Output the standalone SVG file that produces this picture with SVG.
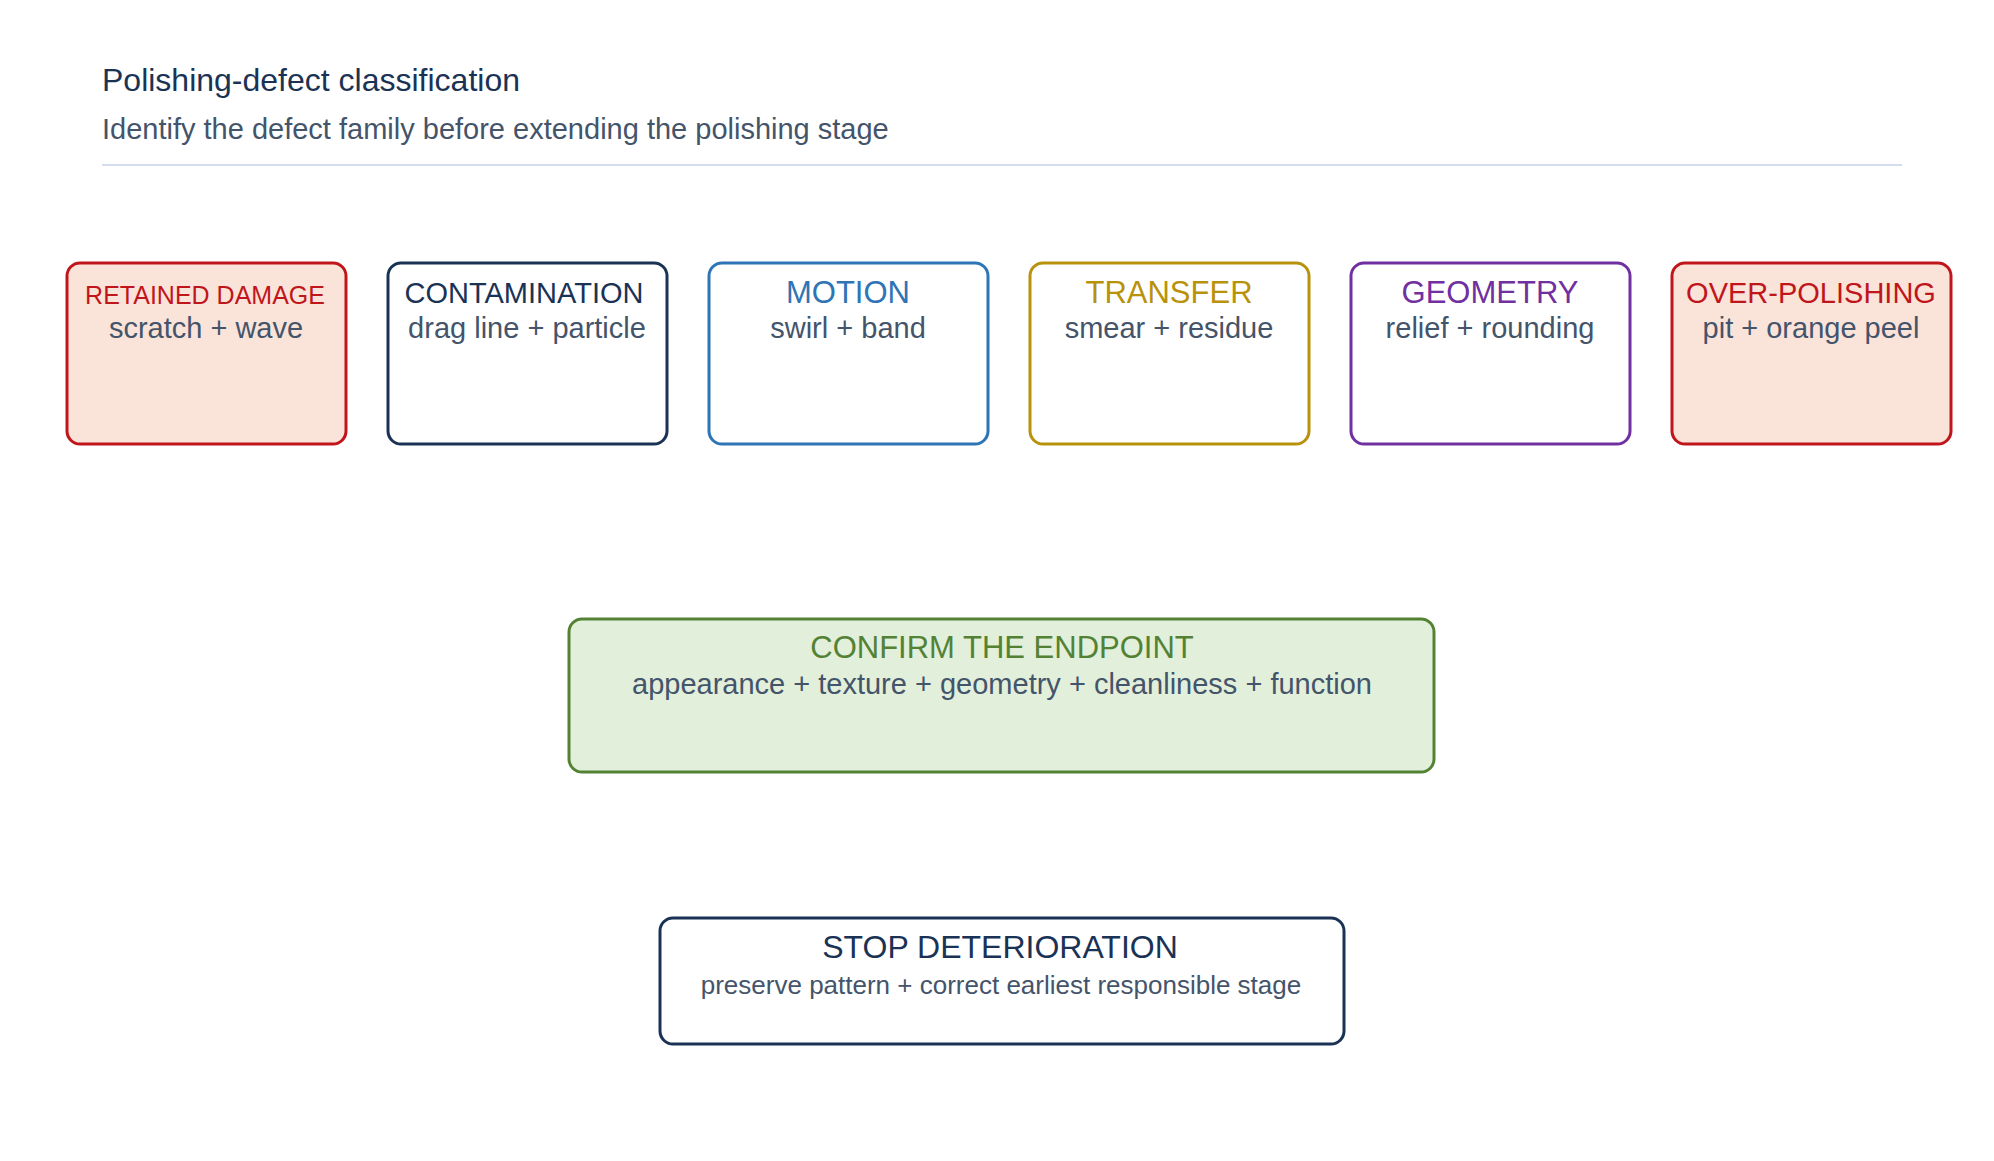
<svg xmlns="http://www.w3.org/2000/svg" width="1994" height="1161" viewBox="0 0 1994 1161">
<style>
text{font-family:"Liberation Sans",Arial,sans-serif;text-anchor:middle}
.box{stroke-width:3}
.sub{fill:#44546a;font-size:29px}
.t{font-size:30px}
</style>
<rect width="1994" height="1161" fill="#fff"/>
<text x="102" y="91" style="text-anchor:start;font-size:32px;fill:#1a3355">Polishing-defect classification</text>
<text x="102" y="139" style="text-anchor:start;font-size:29px;fill:#44546a">Identify the defect family before extending the polishing stage</text>
<line x1="102" y1="165" x2="1902" y2="165" stroke="#d5dcf0" stroke-width="2"/>
<g id="n1"><rect class="box" x="67" y="263" width="279" height="181" rx="13" fill="#fae3d9" stroke="#c0161b"/><text class="t" x="205" y="304" style="font-size:25px;fill:#c0161b">RETAINED DAMAGE</text><text class="sub" x="206" y="338">scratch + wave</text></g>
<g id="n2"><rect class="box" x="388" y="263" width="279" height="181" rx="13" fill="#fff" stroke="#1a3355"/><text class="t" x="524" y="303" style="font-size:29px;fill:#1a3355">CONTAMINATION</text><text class="sub" x="527" y="338">drag line + particle</text></g>
<g id="n3"><rect class="box" x="709" y="263" width="279" height="181" rx="13" fill="#fff" stroke="#2e75b6"/><text class="t" x="848" y="303" style="fill:#2e75b6;font-size:31px">MOTION</text><text class="sub" x="848" y="338">swirl + band</text></g>
<g id="n4"><rect class="box" x="1030" y="263" width="279" height="181" rx="13" fill="#fff" stroke="#b8920b"/><text class="t" x="1169" y="303" style="fill:#b8920b;font-size:31px">TRANSFER</text><text class="sub" x="1169" y="338">smear + residue</text></g>
<g id="n5"><rect class="box" x="1351" y="263" width="279" height="181" rx="13" fill="#fff" stroke="#7030a0"/><text class="t" x="1490" y="303" style="fill:#7030a0;font-size:31px">GEOMETRY</text><text class="sub" x="1490" y="338">relief + rounding</text></g>
<g id="n6"><rect class="box" x="1672" y="263" width="279" height="181" rx="13" fill="#fae3d9" stroke="#c0161b"/><text class="t" x="1811" y="303" style="fill:#c0161b;font-size:29px">OVER-POLISHING</text><text class="sub" x="1811" y="338">pit + orange peel</text></g>
<g id="n7"><rect class="box" x="569" y="619" width="865" height="153" rx="13" fill="#e2efda" stroke="#548235"/><text x="1002" y="658" style="fill:#548235;font-size:31px">CONFIRM THE ENDPOINT</text><text class="sub" x="1002" y="694">appearance + texture + geometry + cleanliness + function</text></g>
<g id="n8"><rect class="box" x="660" y="918" width="684" height="126" rx="13" fill="#fff" stroke="#1a3355"/><text x="1000" y="958" style="fill:#1a3355;font-size:32px">STOP DETERIORATION</text><text x="1001" y="994" style="fill:#44546a;font-size:26px">preserve pattern + correct earliest responsible stage</text></g>
<g id="connectors"></g>
</svg>
